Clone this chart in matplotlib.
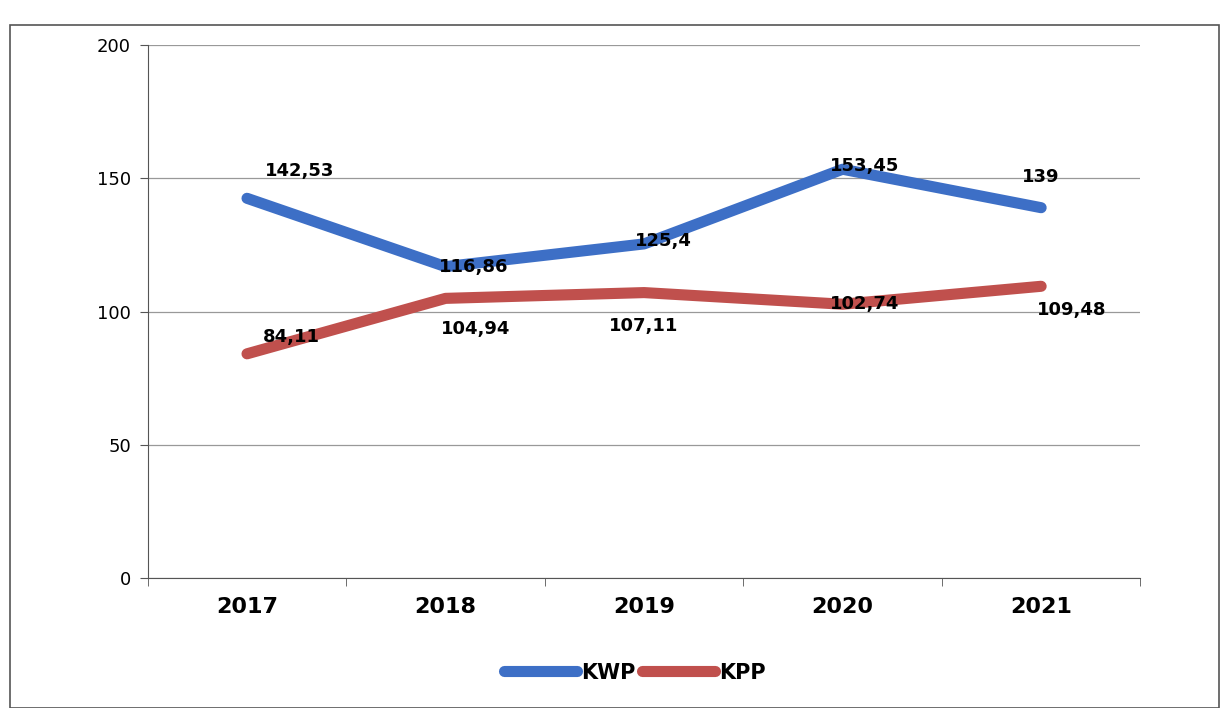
import matplotlib.pyplot as plt
from matplotlib.patches import Rectangle

years = ["2017", "2018", "2019", "2020", "2021"]
kwp = [142.53, 116.86, 125.4, 153.45, 139]
kpp = [84.11, 104.94, 107.11, 102.74, 109.48]
kwp_labels = ["142,53", "116,86", "125,4", "153,45", "139"]
kpp_labels = ["84,11", "104,94", "107,11", "102,74", "109,48"]

blue = "#3d6fc6"
red = "#c0504d"

fig = plt.figure(figsize=(12.21, 7.08), dpi=100)
ax = fig.add_axes([0.121, 0.184, 0.813, 0.752])

x = list(range(len(years)))
ax.plot(x, kwp, color=blue, lw=8, solid_capstyle="round", label="KWP", zorder=3)
ax.plot(x, kpp, color=red, lw=8, solid_capstyle="round", label="KPP", zorder=3)

# label offsets in points (dx, dy)
kwp_off = [(38, 20), (20, 0), (14, 2), (16, 2), (0, 22)]
kpp_off = [(32, 12), (22, -22), (0, -24), (16, 0), (22, -17)]
for i in x:
    ax.annotate(kwp_labels[i], (i, kwp[i]), xytext=kwp_off[i], textcoords="offset points",
                ha="center", va="center", fontsize=13, fontweight="bold", zorder=4)
    ax.annotate(kpp_labels[i], (i, kpp[i]), xytext=kpp_off[i], textcoords="offset points",
                ha="center", va="center", fontsize=13, fontweight="bold", zorder=4)

ax.set_xlim(-0.5, 4.5)
ax.set_ylim(0, 200)
ax.set_yticks([0, 50, 100, 150, 200])
ax.tick_params(axis="y", labelsize=13, length=6, color="#555555", pad=6)
ax.set_xticks(x)
ax.set_xticklabels(years, fontsize=16, fontweight="bold")
ax.tick_params(axis="x", length=0, pad=14)
ax.set_xticks([i - 0.5 for i in range(len(years) + 1)], minor=True)
ax.tick_params(axis="x", which="minor", length=6, color="#555555")
ax.grid(axis="y", color="#999999", lw=0.9)
for s in ["top", "right"]:
    ax.spines[s].set_visible(False)
ax.spines["left"].set_color("#555555")
ax.spines["bottom"].set_color("#555555")

leg = fig.legend(loc="center", bbox_to_anchor=(0.52, 0.05), ncol=2, frameon=False,
                 handlelength=3.5, columnspacing=0.3, handletextpad=0.2,
                 prop={"weight": "bold", "size": 15})

fig.patches.append(Rectangle((0.008, 0.0), 0.99, 0.965, transform=fig.transFigure,
                             fill=False, edgecolor="#555555", lw=1.2))

fig.savefig("out.png", dpi=100)
